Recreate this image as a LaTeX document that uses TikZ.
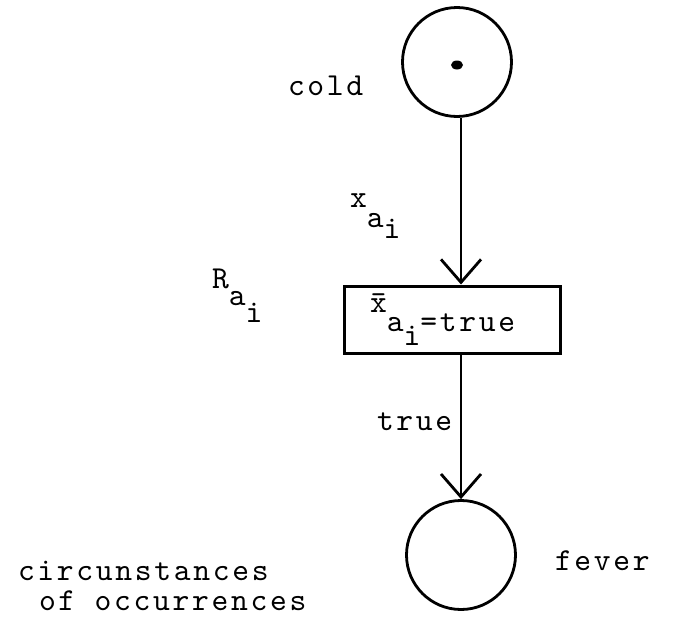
\documentclass[tikz,border=0pt]{standalone}
\usepackage{fontspec}
\newfontfamily\tw{lmmono10-regular.otf}[LetterSpace=8.4]
\usetikzlibrary{arrows.meta,shapes.geometric}
\begin{document}
\begin{tikzpicture}[x=1pt,y=-1pt,
  lbl/.style={inner sep=0pt,outer sep=0pt,anchor=base west,font=\tw\fontsize{32}{38}\selectfont},
  place/.style={draw,circle,line width=2.8pt,minimum size=109pt,inner sep=0pt},
  trans/.style={draw,rectangle,line width=3pt,minimum width=216pt,minimum height=67pt,inner sep=0pt},
  arc/.style={line width=2.6pt,-{Straight Barb[length=23pt,width=40pt,line width=2.8pt]}}]
\useasboundingbox (0,0) rectangle (685,624);
\node[place] (cold) at (457,62) {};
\node[fill,ellipse,minimum width=12pt,minimum height=9pt,inner sep=0pt] (token) at (457,65) {};
\node[trans] (t) at (452.5,319.5) {};
\node[place] (fever) at (461,555) {};
\draw[arc] (cold.south -| fever.north) -- (fever.north |- t.north);
\draw[arc] (fever.north |- t.south) -- (fever.north);
\node[lbl] (coldl) at (288,95) {cold};
\node[lbl] (xl) at (350,207) {x\raisebox{-20pt}{a\raisebox{-11pt}{i}}};
\node[lbl] (rl) at (212,288) {R\raisebox{-17pt}{a\raisebox{-17pt}{i}}};
\node[lbl] (tl) at (370,312) {\={x}\raisebox{-19pt}{a\raisebox{-14pt}{i}=true}};
\node[lbl] (truel) at (377,430) {true};
\node[lbl] (feverl) at (555,570) {fever};
\node[lbl] (circ) at (18,580) {\rlap{\raisebox{-30pt}{\hspace*{21pt}of occurrences}}circunstances};
\end{tikzpicture}
\end{document}
